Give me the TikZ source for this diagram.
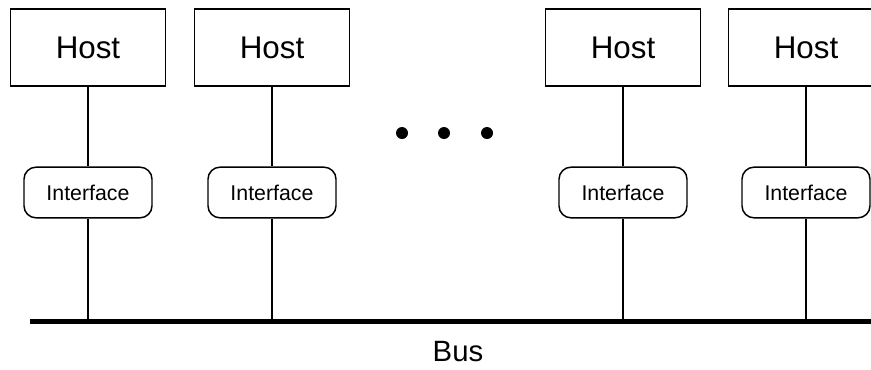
\documentclass[tikz,border=0pt]{standalone}
\usepackage{fontspec}
\setmainfont{Liberation Sans}

\tikzset{
  host/.style={draw, line width=1.1pt, minimum width=116pt, minimum height=58pt, font=\fontsize{23.5}{26}\selectfont},
  iface/.style={draw, line width=1.1pt, rounded corners=9pt, minimum width=96pt, minimum height=38pt, font=\fontsize{16}{18}\selectfont},
  link/.style={line width=1.1pt},
}

\begin{document}
\begin{tikzpicture}[x=0.75pt,y=-0.75pt]
        \useasboundingbox (0,0) rectangle (871,369);
        \clip (0,0) rectangle (871,369);

        \node[host] (host1) at (88,47.5) {Host};
        \node[host] (host2) at (272,47.5) {Host};
        \node[host] (host3) at (623,47.5) {Host};
        \node[host] (host4) at (806,47.5) {Host};

        \node[iface] (iface1) at (88,192.5) {Interface};
        \node[iface] (iface2) at (272,192.5) {Interface};
        \node[iface] (iface3) at (623,192.5) {Interface};
        \node[iface] (iface4) at (806,192.5) {Interface};

        % Bus line and its taps.
        \coordinate (busL) at (30,321.5);
        \coordinate (busR) at (880,321.5);
        \coordinate (tap1) at (88,321.5);
        \coordinate (tap2) at (272,321.5);
        \coordinate (tap3) at (623,321.5);
        \coordinate (tap4) at (806,321.5);
        \draw [line width=3.8pt] (busL) -- (busR);
        \node[font=\fontsize{22}{24}\selectfont] (bus) at (458,352) {Bus};

        \draw [link] (host1) -- (iface1) -- (tap1);
        \draw [link] (host2) -- (iface2) -- (tap2);
        \draw [link] (host3) -- (iface3) -- (tap3);
        \draw [link] (host4) -- (iface4) -- (tap4);

        % More hosts in between.
        \fill (402,133) circle (6);
        \fill (444,133) circle (6);
        \fill (487,133) circle (6);
      \end{tikzpicture}
\end{document}
